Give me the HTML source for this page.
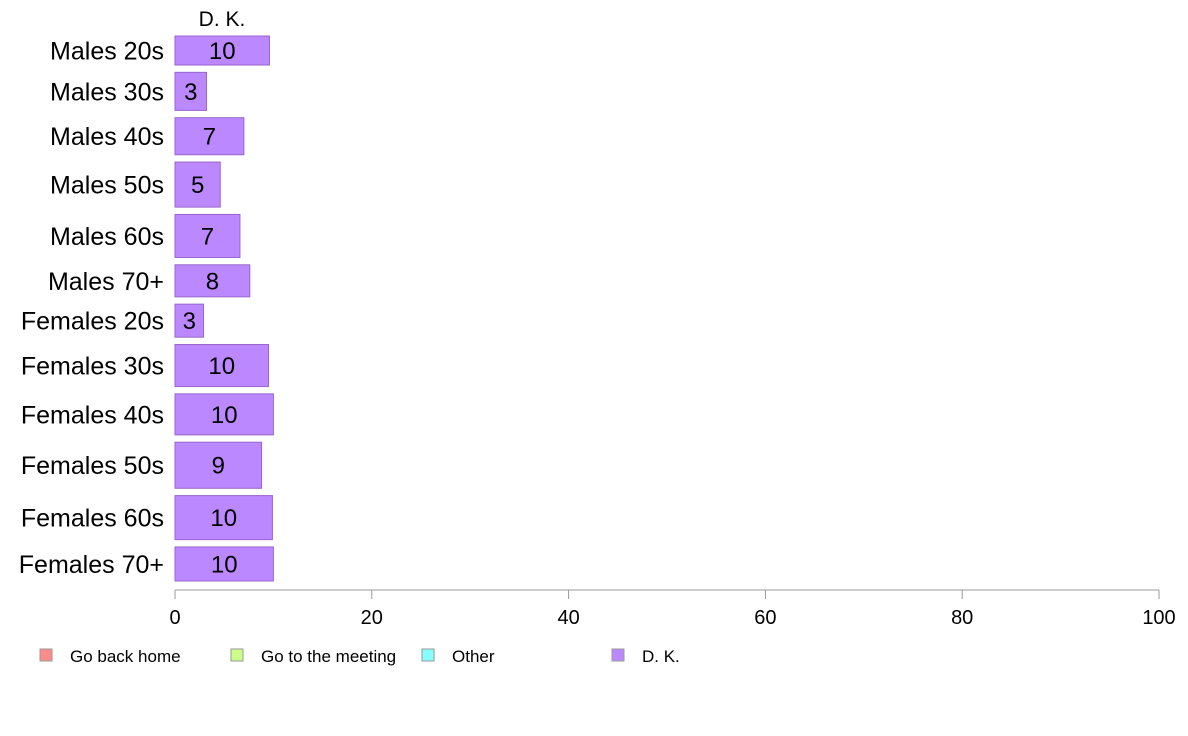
<!DOCTYPE html>
<html><head><meta charset="utf-8"><style>
body{margin:0;background:#fff;}
svg{display:block;font-family:"Liberation Sans",Arial,sans-serif;}
</style></head><body>
<svg id="chart" width="1188" height="736"></svg>
<script>
const categories=["Males 20s","Males 30s","Males 40s","Males 50s","Males 60s","Males 70+","Females 20s","Females 30s","Females 40s","Females 50s","Females 60s","Females 70+"];
const dkValues=[9.6,3.2,7.0,4.6,6.6,7.6,2.9,9.5,10.0,8.8,9.9,10.0];
const sampleSizes=[29,38,37,45,43,32,33,42,41,46,44,34];
const xTicks=[0,20,40,60,80,100];
const legendItems=["Go back home","Go to the meeting","Other","D. K."];
const legendColors=["#ff8a8a","#ccff88","#88ffff","#bb88ff"];

const NS="http://www.w3.org/2000/svg";
const svg=document.getElementById('chart');
function mk(t,a){const e=document.createElementNS(NS,t);for(const k in a)e.setAttribute(k,a[k]);svg.appendChild(e);return e;}
const x0=175,x1=1159,yTop=36,yBot=581,gap=7.3;
const xs=v=>x0+(x1-x0)*v/100;
const totalN=sampleSizes.reduce((a,b)=>a+b,0);
const hUnit=(yBot-yTop-gap*(categories.length-1))/totalN;

const title=mk('text',{x:222,y:26,'text-anchor':'middle','font-size':21,fill:'#000'});


title.textContent="D. K.";

let y=yTop;
categories.forEach((c,i)=>{
  const h=sampleSizes[i]*hUnit;
  const r=mk('rect',{x:x0,y:y,width:xs(dkValues[i])-x0,height:h,fill:'#bb88ff',stroke:'#9966cc','stroke-width':1});
  
  
  const v=mk('text',{x:(x0+xs(dkValues[i]))/2,y:y+h/2+8.5,'text-anchor':'middle','font-size':24,fill:'#000'});
  
  
  v.textContent=Math.round(dkValues[i]);
  const l=mk('text',{x:164,y:y+h/2+9,'text-anchor':'end','font-size':25,fill:'#000'});
  
  
  l.textContent=c;
  y+=h+gap;
});

const ax=mk('line',{x1:x0,y1:590,x2:x1,y2:590,stroke:'#999','stroke-width':1});


xTicks.forEach(t=>{
  const tk=mk('line',{x1:xs(t),y1:590,x2:xs(t),y2:599,stroke:'#999','stroke-width':1});
  
  
  const tl=mk('text',{x:xs(t),y:624,'text-anchor':'middle','font-size':20,fill:'#000'});
  
  
  tl.textContent=t;
});

const legX=[40,231,422,612];
legendItems.forEach((n,i)=>{
  const s=mk('rect',{x:legX[i],y:649,width:12,height:12,fill:legendColors[i],stroke:'#999','stroke-width':1});
  
  
  const t=mk('text',{x:legX[i]+30,y:662,'font-size':17,fill:'#000'});
  
  
  t.textContent=n;
});
</script>
</body></html>
